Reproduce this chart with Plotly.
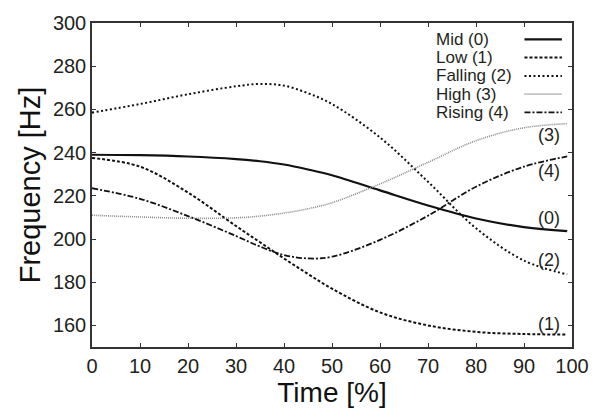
import plotly.graph_objects as go

# ---- data ----
t = [0, 10, 20, 30, 35, 40, 45, 50, 60, 70, 80, 90, 99]
mid     = [239.0, 238.8, 238.2, 237.0, 236.0, 234.5, 232.2, 229.5, 222.5, 215.5, 209.5, 205.5, 203.6]
low     = [237.5, 233.5, 221.5, 206.0, 198.5, 191.0, 183.8, 177.0, 166.0, 160.0, 157.0, 156.0, 155.8]
falling = [258.5, 262.5, 267.0, 270.7, 271.8, 271.0, 267.5, 262.5, 247.0, 226.5, 205.0, 190.0, 183.6]
high    = [211.0, 210.2, 209.6, 209.8, 210.6, 212.0, 214.0, 216.8, 225.5, 235.5, 245.5, 251.5, 253.4]
rising  = [223.5, 218.6, 210.6, 201.4, 196.5, 192.6, 191.0, 191.8, 199.6, 210.8, 224.2, 233.5, 238.2]

names = ["Mid (0)", "Low (1)", "Falling (2)", "High (3)", "Rising (4)"]
series = [mid, low, falling, high, rising]
end_labels = ["(0)", "(1)", "(2)", "(3)", "(4)"]
end_label_y = [209.5, 160.8, 190.3, 248.0, 231.7]
x_ticks = list(range(0, 101, 10))
y_ticks = list(range(160, 301, 20))

# ---- styles ----
styles = [
    dict(color="#111111", width=2.2, dash="solid"),
    dict(color="#111111", width=2.0, dash="3px,2px"),
    dict(color="#111111", width=2.0, dash="2px,2.5px"),
    dict(color="#8a8a8a", width=1.6, dash="1px,1px"),
    dict(color="#111111", width=1.8, dash="6px,2px,2px,2px"),
]

FONT = "Liberation Sans, Arial, Helvetica, sans-serif"
TXT = "#231f20"

fig = go.Figure()
for name, ys, st in zip(names, series, styles):
    fig.add_trace(go.Scatter(
        x=t, y=ys, mode="lines", name=name, showlegend=False,
        line=dict(color=st["color"], width=st["width"], dash=st["dash"],
                  shape="spline", smoothing=1.0),
    ))

# end-of-curve labels
for lab, yv in zip(end_labels, end_label_y):
    fig.add_annotation(x=95.3, y=yv, text=lab, showarrow=False,
                       font=dict(family=FONT, size=18, color=TXT),
                       xanchor="center", yanchor="middle")

# manual legend (text left, line sample right)
PLOT_T, PLOT_H = 21, 337
leg_px = [38, 57, 76, 95, 114]
for name, st, px in zip(names, styles, leg_px):
    py = (PLOT_T + PLOT_H - px) / PLOT_H
    fig.add_annotation(x=0.712, y=py, xref="paper", yref="paper", text=name,
                       showarrow=False, xanchor="left", yanchor="middle",
                       font=dict(family=FONT, size=17, color=TXT))
    fig.add_shape(type="line", xref="paper", yref="paper",
                  x0=0.901, x1=0.979, y0=py, y1=py,
                  line=dict(color=st["color"], width=st["width"], dash=st["dash"]))

axis_common = dict(
    showline=True, linecolor="#333333", linewidth=1.5, mirror="ticks",
    ticks="inside", ticklen=4, tickwidth=1, tickcolor="#333333",
    showgrid=False, zeroline=False,
    tickfont=dict(family=FONT, size=20, color=TXT),
)

fig.update_xaxes(range=[0, 100], tickvals=x_ticks,
                 title=dict(text="Time [%]", font=dict(family=FONT, size=28, color="#111111"), standoff=0),
                 **axis_common)
fig.update_yaxes(range=[150, 300], tickvals=y_ticks,
                 title=dict(text="Frequency [Hz]", font=dict(family=FONT, size=29, color="#111111"), standoff=4),
                 **axis_common)

fig.update_layout(
    width=601, height=408,
    margin=dict(l=92, r=25, t=21, b=50),
    paper_bgcolor="white", plot_bgcolor="white",
    showlegend=False,
)

fig.write_html("out.html")
